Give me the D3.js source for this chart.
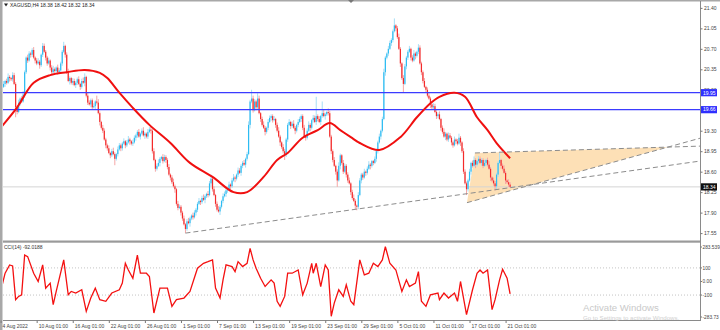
<!DOCTYPE html>
<html>
<head>
<meta charset="utf-8">
<script src="https://cdn.jsdelivr.net/npm/d3@7"></script>
<style>
body{margin:0;background:#fff}
svg text{font-family:"Liberation Sans",Arial,sans-serif}
</style>
</head>
<body>
<div id="chart"></div>
<script>
// XAGUSD H4 bars, prices in cents (x100)
const opens = [2000,2005,2010,2015,2012,2022,2020,2018,2025,2010,
1970,1962,1978,1985,1980,1992,2030,2055,2050,2062,2060,2068,2055,2050,2045,2048,2042,2060,2075,2065,
2055,2045,2050,2038,2030,2035,2032,2038,2030,2033,2045,2065,2075,2060,2030,2015,2020,2012,2015,2008,
2012,2018,2010,2005,2015,2012,2022,1990,1978,1975,1982,1970,1972,1980,1978,1960,1945,1935,1930,1915,
1905,1900,1892,1888,1895,1890,1882,1890,1898,1905,1900,1908,1912,1905,1910,1915,1912,1908,1910,1918,
1922,1928,1920,1925,1930,1922,1925,1920,1928,1932,1930,1895,1880,1865,1870,1875,1882,1885,1878,1885,
1880,1868,1855,1850,1842,1835,1830,1805,1798,1800,1790,1780,1770,1762,1775,1772,1780,1785,1782,1790,
1795,1805,1810,1808,1815,1812,1818,1822,1820,1840,1848,1830,1820,1805,1795,1792,1800,1810,1818,1822,
1828,1830,1838,1835,1845,1850,1848,1855,1862,1858,1870,1875,1872,1882,1890,1940,1980,1985,1965,1980,
1970,1985,1960,1950,1940,1935,1928,1935,1945,1952,1955,1948,1950,1940,1930,1920,1910,1902,1895,1890,
1915,1940,1945,1938,1942,1935,1930,1940,1945,1950,1955,1935,1920,1918,1930,1940,1935,1948,1952,1945,
1955,1950,1945,1955,1960,1955,1958,1962,1960,1920,1895,1880,1870,1860,1845,1870,1888,1875,1860,1870,
1855,1845,1840,1825,1815,1810,1802,1800,1820,1845,1855,1850,1860,1858,1865,1872,1870,1878,1875,1882,
1895,1910,1920,1930,1950,2030,2055,2062,2070,2080,2085,2100,2110,2105,2090,2070,2045,2020,2010,2040,
2055,2065,2070,2055,2050,2062,2058,2065,2072,2045,2030,2015,2005,2000,1990,1985,1975,1970,1972,1962,
1955,1958,1950,1935,1928,1920,1925,1915,1922,1918,1910,1905,1915,1912,1908,1918,1910,1895,1860,1840,
1830,1845,1860,1875,1870,1880,1872,1878,1882,1875,1880,1870,1875,1880,1872,1865,1850,1845,1840,1835,
1855,1875,1880,1870,1865,1858,1845,1842,1838]

const highs = [2008,2015,2017,2019,2028,2025,2022,2030,2029,2013,
1973,1983,1987,1989,1998,2033,2057,2060,2066,2065,2071,2073,2057,2054,2054,2051,2062,2080,2079,2068,
2058,2055,2052,2042,2041,2038,2040,2043,2037,2048,2068,2082,2077,2064,2036,2023,2022,2020,2019,2015,
2021,2023,2012,2019,2021,2028,2024,1995,1982,1985,1985,1977,1982,1990,1984,1963,1947,1940,1934,1918,
1908,1905,1894,1899,1901,1893,1892,1903,1909,1908,1911,1917,1914,1914,1921,1918,1914,1915,1922,1925,
1931,1933,1927,1934,1936,1928,1927,1933,1936,1938,1933,1900,1882,1874,1881,1885,1887,1890,1889,1888,
1883,1873,1857,1854,1848,1838,1832,1810,1804,1803,1793,1785,1772,1779,1781,1783,1787,1790,1794,1798,
1808,1815,1812,1819,1821,1821,1824,1827,1844,1855,1851,1835,1822,1809,1801,1803,1812,1823,1826,1831,
1833,1843,1840,1849,1856,1853,1857,1867,1866,1873,1878,1880,1884,1894,1946,1983,2000,1990,1984,1983,
1994,1990,1962,1954,1946,1938,1937,1950,1956,1958,1958,1955,1952,1944,1936,1923,1912,1907,1899,1918,
1943,1950,1947,1946,1948,1938,1942,1950,1954,1958,1958,1940,1922,1934,1946,1943,1950,1957,1956,1988,
1958,1955,1957,1980,1966,1961,1964,1968,1964,1923,1898,1885,1872,1864,1876,1891,1890,1880,1874,1873,
1859,1850,1842,1829,1821,1813,1804,1825,1849,1858,1858,1865,1862,1869,1878,1875,1880,1880,1886,1898,
1913,1925,1932,1954,2036,2058,2064,2075,2084,2088,2103,2122,2112,2109,2096,2073,2047,2025,2044,2058,
2068,2075,2072,2059,2068,2065,2067,2078,2076,2048,2033,2020,2007,2004,1996,1988,1977,1977,1976,1965,
1961,1963,1952,1939,1934,1928,1927,1927,1926,1921,1913,1920,1917,1916,1925,1921,1912,1900,1864,1843,
1848,1865,1877,1879,1886,1883,1880,1887,1886,1883,1883,1880,1882,1884,1878,1868,1852,1850,1844,1858,
1878,1892,1882,1874,1871,1861,1847,1847,1842]

const lows = [1996,2003,2005,2009,2010,2014,2015,2014,2008,1953,
1958,1960,1973,1977,1978,1986,2027,2046,2048,2055,2056,2053,2045,2042,2043,2036,2039,2056,2063,2050,
2041,2043,2033,2027,2028,2026,2029,2026,2028,2028,2041,2063,2055,2027,2013,2009,2009,2008,2006,2003,
2008,2008,2000,2002,2010,2006,1987,1974,1973,1970,1966,1968,1967,1975,1958,1939,1932,1926,1913,1900,
1896,1890,1883,1885,1888,1871,1879,1886,1896,1895,1896,1906,1900,1902,1908,1906,1905,1904,1908,1913,
1918,1918,1915,1922,1920,1916,1917,1916,1926,1925,1891,1878,1860,1862,1868,1869,1879,1874,1876,1875,
1864,1853,1845,1839,1833,1824,1802,1794,1796,1785,1776,1768,1755,1759,1770,1766,1777,1778,1780,1785,
1791,1803,1803,1805,1810,1806,1815,1816,1818,1835,1826,1818,1800,1792,1790,1786,1797,1806,1816,1817,
1824,1828,1830,1832,1843,1842,1845,1851,1856,1853,1866,1870,1867,1879,1888,1934,1977,1961,1963,1965,
1966,1958,1945,1937,1933,1922,1925,1931,1943,1947,1944,1946,1935,1927,1918,1904,1899,1891,1880,1885,
1911,1938,1933,1935,1933,1924,1927,1936,1943,1945,1931,1918,1913,1915,1928,1929,1932,1944,1943,1940,
1946,1943,1940,1952,1953,1949,1955,1956,1918,1890,1876,1868,1855,1834,1843,1864,1872,1856,1858,1850,
1841,1838,1820,1812,1808,1796,1794,1796,1818,1840,1846,1848,1853,1855,1863,1864,1867,1871,1873,1877,
1891,1908,1915,1927,1948,2024,2052,2058,2068,2075,2081,2098,2100,2087,2068,2039,2017,1996,2008,2035,
2051,2063,2050,2047,2048,2052,2055,2061,2043,2025,2011,2003,1995,1987,1983,1969,1967,1966,1960,1950,
1951,1948,1930,1925,1918,1914,1912,1911,1916,1905,1901,1903,1907,1905,1906,1904,1892,1856,1838,1820,
1826,1843,1855,1867,1868,1866,1869,1874,1873,1870,1866,1868,1870,1869,1863,1844,1842,1836,1828,1830,
1851,1873,1865,1862,1856,1839,1839,1834,1832]

const closes = [2005,2010,2015,2012,2022,2020,2018,2025,2010,1970,
1962,1978,1985,1980,1992,2030,2055,2050,2062,2060,2068,2055,2050,2045,2048,2042,2060,2075,2065,2055,
2045,2050,2038,2030,2035,2032,2038,2030,2033,2045,2065,2075,2060,2030,2015,2020,2012,2015,2008,2012,
2018,2010,2005,2015,2012,2022,1990,1978,1975,1982,1970,1972,1980,1978,1960,1945,1935,1930,1915,1905,
1900,1892,1888,1895,1890,1882,1890,1898,1905,1900,1908,1912,1905,1910,1915,1912,1908,1910,1918,1922,
1928,1920,1925,1930,1922,1925,1920,1928,1932,1930,1895,1880,1865,1870,1875,1882,1885,1878,1885,1880,
1868,1855,1850,1842,1835,1830,1805,1798,1800,1790,1780,1770,1762,1775,1772,1780,1785,1782,1790,1795,
1805,1810,1808,1815,1812,1818,1822,1820,1840,1848,1830,1820,1805,1795,1792,1800,1810,1818,1822,1828,
1830,1838,1835,1845,1850,1848,1855,1862,1858,1870,1875,1872,1882,1890,1940,1980,1985,1965,1980,1970,
1985,1960,1950,1940,1935,1928,1935,1945,1952,1955,1948,1950,1940,1930,1920,1910,1902,1895,1890,1915,
1940,1945,1938,1942,1935,1930,1940,1945,1950,1955,1935,1920,1918,1930,1940,1935,1948,1952,1945,1955,
1950,1945,1955,1960,1955,1958,1962,1960,1920,1895,1880,1870,1860,1845,1870,1888,1875,1860,1870,1855,
1845,1840,1825,1815,1810,1802,1800,1820,1845,1855,1850,1860,1858,1865,1872,1870,1878,1875,1882,1895,
1910,1920,1930,1950,2030,2055,2062,2070,2080,2085,2100,2110,2105,2090,2070,2045,2020,2010,2040,2055,
2065,2070,2055,2050,2062,2058,2065,2072,2045,2030,2015,2005,2000,1990,1985,1975,1970,1972,1962,1955,
1958,1950,1935,1928,1920,1925,1915,1922,1918,1910,1905,1915,1912,1908,1918,1910,1895,1860,1840,1830,
1845,1860,1875,1870,1880,1872,1878,1882,1875,1880,1870,1875,1880,1872,1865,1850,1845,1840,1835,1855,
1875,1880,1870,1865,1858,1845,1842,1838,1834]

// moving average (bar index / value)
const maIdx = [-1,10,21,32,43,55,65,70,78,87,98,112,125,140,154,163,174,183,190,200,210,218,225,232,238,251,265,276,285,291,301,308,316,323,329,338]
const maVal = [19.35,19.70,20.12,20.25,20.30,20.34,20.29,20.20,19.95,19.69,19.40,19.09,18.75,18.51,18.25,18.25,18.51,18.80,18.92,19.18,19.31,19.43,19.31,19.19,19.09,18.97,19.19,19.53,19.77,19.88,19.95,19.88,19.53,19.31,19.09,18.83]

// CCI(14)
const cciIdx = [0,2,5,7,9,11,13,15,17,21,24,27,29,32,34,36,41,44,46,49,53,56,59,62,65,69,73,78,80,82,84,87,90,92,96,98,101,105,110,113,116,121,125,130,134,137,140,142,145,147,149,153,155,157,160,163,165,167,169,172,175,179,181,183,185,188,190,193,197,200,203,206,207,209,212,215,217,219,221,224,227,229,232,234,238,241,244,247,250,253,255,258,262,266,269,271,275,277,279,282,285,290,291,294,297,301,303,305,309,313,316,318,320,323,326,328,331,333,336,338]
const cciVal = [-30,61,122,115,-134,-110,-98,195,183,61,0,122,-49,-12,-171,-73,159,-98,-73,-85,-61,-220,-122,-49,-134,-146,-85,-61,-12,134,85,24,195,61,61,37,-232,-49,-49,-183,-134,-122,-73,98,134,146,159,-49,-122,12,122,110,73,146,110,134,244,159,98,24,-37,12,-12,-146,-183,-110,61,61,85,-98,-12,134,61,134,-37,122,85,-256,-159,-61,-110,-24,-146,-171,159,49,61,134,110,159,256,134,85,-73,12,-37,-12,73,-146,-183,-98,-85,-134,-85,-122,-85,-146,0,-244,-61,61,85,61,85,-207,-134,12,90,24,-92]

const priceTicks = [17.55,17.90,18.25,18.60,18.95,19.30,19.65,20.00,20.35,20.70,21.05,21.40]
const levels = [19.95,19.66]
const lastPrice = 18.34
const cciTicks = [283.539,100,0,-100,-283.733]
const cciTickLabels = ['283.539','100','0.00','-100','-283.73']
const timeIdx = [-1,23,47,71,95,119,143,167,191,215,239,263,287,311,335]
const timeLabels = ['4 Aug 2022','10 Aug 01:00','16 Aug 01:00','22 Aug 01:00','26 Aug 01:00','1 Sep 01:00','7 Sep 01:00','13 Sep 01:00','19 Sep 01:00','23 Sep 01:00','29 Sep 01:00','5 Oct 01:00','11 Oct 01:00','17 Oct 01:00','21 Oct 01:00']

// chart objects: anchors as [bar index, price]
const supportLine = [[122,17.55],[236,17.96]]
const triangle = [[309.3,18.07],[314.6,18.92],[443,19.02]]

init()

function init(){
    const svg = d3.select('#chart').append('svg')
        .attr('width',720).attr('height',330)

    const x = d3.scaleLinear().domain([-1,338]).range([0.6,510.1])
    const y = d3.scaleLinear().domain([17.55,20.35]).range([233.1,69.3])
    const yc = d3.scaleLinear().domain([-283.733,283.539]).range([320,243])
    const right = 700

    svg.append('rect').attr('width',720).attr('height',330).style('fill','#fff')

    let defs = svg.append('defs')
    defs.append('clipPath').attr('id','cm').append('rect')
        .attr('x',3).attr('y',2).attr('width',right-3).attr('height',239)
    defs.append('clipPath').attr('id','cc').append('rect')
        .attr('x',3).attr('y',243).attr('width',right-3).attr('height',77)

    let main = svg.append('g').attr('clip-path','url(#cm)')

    // triangle object
    main.append('polygon')
        .attr('points', triangle.map(p => [x(p[0]), y(p[1])].join(',')).join(' '))
        .style('fill','#fde0b6')

    // current price line
    main.append('line')
        .attr('x1',3).attr('x2',right)
        .attr('y1',y(lastPrice)).attr('y2',y(lastPrice))
        .style('stroke','#d4d4d4').style('stroke-width',1)

    // candles
    const idx = d3.range(closes.length)
    const up = i => closes[i] >= opens[i]
    main.selectAll('line.wick').data(idx).join('line')
        .attr('class','wick')
        .attr('x1',i => x(i)).attr('x2',i => x(i))
        .attr('y1',i => y(highs[i]/100)).attr('y2',i => y(lows[i]/100))
        .style('stroke',i => up(i) ? '#a6def6' : '#f5a6a6')
        .style('stroke-width',1)

    main.selectAll('rect.body').data(idx).join('rect')
        .attr('class','body')
        .attr('x',i => x(i)-0.6).attr('width',1.2)
        .attr('y',i => y(Math.max(opens[i],closes[i])/100))
        .attr('height',i => Math.max(0.8, y(Math.min(opens[i],closes[i])/100) - y(Math.max(opens[i],closes[i])/100)))
        .style('fill',i => up(i) ? '#2cbcf2' : '#f42a2a')

    // horizontal levels
    main.selectAll('line.level').data(levels).join('line')
        .attr('class','level')
        .attr('x1',3).attr('x2',right)
        .attr('y1',d => y(d)).attr('y2',d => y(d))
        .style('stroke','#3b3bff').style('stroke-width',1.2)

    // moving average
    main.append('path')
        .attr('d', d3.line().x(d => x(d)).y((d,i) => y(maVal[i])).curve(d3.curveCatmullRom)(maIdx))
        .style('fill','none').style('stroke','#f01010').style('stroke-width',2)

    // dashed rays
    function ray(a, b){
        const x1 = x(a[0]), y1 = y(a[1]), x2 = x(b[0]), y2 = y(b[1])
        const k = (y2 - y1) / (x2 - x1)
        return [x1, y1, right, y1 + k * (right - x1)]
    }
    const rays = [ray(supportLine[0], supportLine[1]), ray(triangle[1], triangle[2]), ray(triangle[0], triangle[2])]
    main.selectAll('line.ray').data(rays).join('line')
        .attr('class','ray')
        .attr('x1',d => d[0]).attr('y1',d => d[1]).attr('x2',d => d[2]).attr('y2',d => d[3])
        .style('stroke','#8c8c8c').style('stroke-width',1).style('stroke-dasharray','5,3')

    // CCI panel
    let sub = svg.append('g').attr('clip-path','url(#cc)')
    sub.selectAll('line.lvl').data([100,-100]).join('line')
        .attr('class','lvl')
        .attr('x1',3).attr('x2',right)
        .attr('y1',d => yc(d)).attr('y2',d => yc(d))
        .style('stroke','#c4c4c4').style('stroke-width',1).style('stroke-dasharray','1,2')
    sub.append('path')
        .attr('d', d3.line().x(d => x(d)).y((d,i) => yc(cciVal[i]))(cciIdx))
        .style('fill','none').style('stroke','#f41010').style('stroke-width',1.3)

    // frames
    svg.append('rect').attr('x',0).attr('y',0).attr('width',2.5).attr('height',330).style('fill','#a8a8a8')
    svg.append('rect').attr('x',0).attr('y',0).attr('width',720).attr('height',1.5).style('fill','#a8a8a8')
    svg.append('path').attr('d','M348,0 L354,0 L351,3 Z').style('fill','#777')
    svg.append('rect').attr('x',3).attr('y',240.5).attr('width',right-3).attr('height',2.2).style('fill','#9a9a9a')
    svg.append('line').attr('x1',right+0.5).attr('x2',right+0.5).attr('y1',1).attr('y2',321)
        .style('stroke','#8a8a8a').style('stroke-width',1)
    svg.append('line').attr('x1',3).attr('x2',right+0.5).attr('y1',320.5).attr('y2',320.5)
        .style('stroke','#8a8a8a').style('stroke-width',1)

    // price axis
    let pa = svg.append('g').attr('transform',`translate(${right+0.5},0)`)
        .call(d3.axisRight(y).tickValues(priceTicks).tickFormat(d3.format('.2f')).tickSize(2).tickPadding(1.5))
    pa.select('.domain').remove()
    pa.selectAll('line').style('stroke','#777')
    pa.selectAll('text').style('font-size','5px').style('fill','#444').style('font-family','"Liberation Sans",Arial,sans-serif')

    // price labels in boxes
    const boxes = [[levels[0],'#2f2fff'],[levels[1],'#2f2fff'],[lastPrice,'#111']]
    boxes.forEach(b => {
        svg.append('rect').attr('x',right+1).attr('y',y(b[0])-3.6).attr('width',16).attr('height',7.2).style('fill',b[1])
        svg.append('text').attr('x',right+3).attr('y',y(b[0])+1.8).text(b[0].toFixed(2))
            .style('font-size','5px').style('fill','#fff')
    })

    // CCI axis
    svg.selectAll('text.cci').data(cciTicks).join('text')
        .attr('class','cci')
        .attr('x',right+2.5)
        .attr('y',d => Math.min(317, Math.max(247, yc(d))) + 1.8)
        .text((d,i) => cciTickLabels[i])
        .style('font-size','4.8px').style('fill','#444')
    svg.selectAll('line.ccitick').data(cciTicks).join('line')
        .attr('class','ccitick')
        .attr('x1',right+0.5).attr('x2',right+2)
        .attr('y1',d => Math.min(317, Math.max(247, yc(d)))).attr('y2',d => Math.min(317, Math.max(247, yc(d))))
        .style('stroke','#777')

    // time axis
    let ta = svg.append('g').attr('transform','translate(0,320.5)')
        .call(d3.axisBottom(x).tickValues(timeIdx).tickFormat((d,i) => timeLabels[i]).tickSize(2.5).tickPadding(1.5))
    ta.select('.domain').remove()
    ta.selectAll('line').style('stroke','#777')
    ta.selectAll('text').attr('text-anchor','start').attr('dx',1.5)
        .style('font-size','5px').style('fill','#444').style('font-family','"Liberation Sans",Arial,sans-serif')

    // titles
    svg.append('path').attr('d','M4,3.5 L8,3.5 L6,6.5 Z').style('fill','#222')
    svg.append('text').attr('x',10).attr('y',7).text('XAGUSD,H4  18.38 18.42 18.32 18.34')
        .style('font-size','5px').style('fill','#222')
    svg.append('text').attr('x',4).attr('y',249).text('CCI(14) -92.0188')
        .style('font-size','5px').style('fill','#333')

    // watermark
    svg.append('text').attr('x',583).attr('y',311).text('Activate Windows')
        .style('font-size','9.6px').style('fill','#c9c9c9')
    svg.append('text').attr('x',583).attr('y',320).text('Go to Settings to activate Windows.')
        .style('font-size','6.1px').style('fill','#cfcfcf')
}
</script>
</body>
</html>
